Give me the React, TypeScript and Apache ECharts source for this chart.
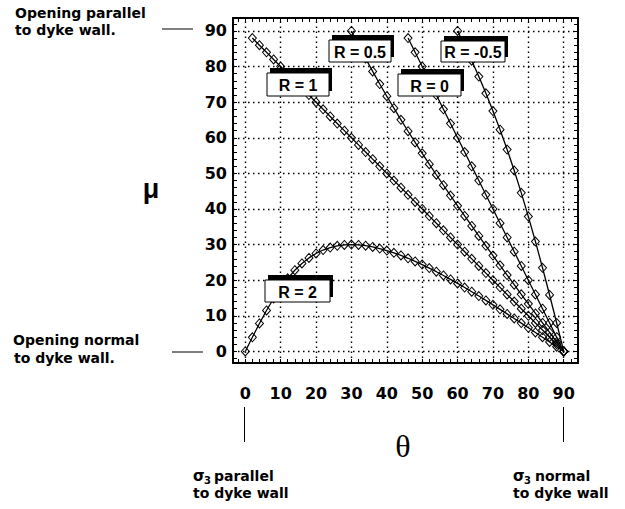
import React, { useEffect, useRef } from "react";
import * as echarts from "echarts";

// θ (deg) and μ (deg) read for each stress ratio R
const THETA_R2 = [0, 2, 4, 6, 8, 10, 12, 14, 16, 18, 20, 22, 24, 26, 28, 30, 32, 34, 36, 38, 40, 42, 44, 46, 48, 50, 52, 54, 56, 58, 60, 62, 64, 66, 68, 70, 72, 74, 76, 78, 80, 82, 84, 86, 88, 90];
const MU_R2 = [0, 3.98, 7.85, 11.5, 14.87, 17.87, 20.52, 22.8, 24.7, 26.27, 27.51, 28.48, 29.18, 29.65, 29.91, 30.0, 29.92, 29.7, 29.35, 28.89, 28.33, 27.69, 26.96, 26.16, 25.29, 24.38, 23.4, 22.39, 21.33, 20.23, 19.11, 17.95, 16.77, 15.56, 14.33, 13.08, 11.82, 10.54, 9.25, 7.95, 6.64, 5.32, 3.99, 2.66, 1.33, 0];

const THETA_R1 = [2, 4, 6, 8, 10, 12, 14, 16, 18, 20, 22, 24, 26, 28, 30, 32, 34, 36, 38, 40, 42, 44, 46, 48, 50, 52, 54, 56, 58, 60, 62, 64, 66, 68, 70, 72, 74, 76, 78, 80, 82, 84, 86, 88, 90];
const MU_R1 = [88, 86, 84, 82, 80, 78, 76, 74, 72, 70, 68, 66, 64, 62, 60, 58, 56, 54, 52, 50, 48, 46, 44, 42, 40, 38, 36, 34, 32, 30, 28, 26, 24, 22, 20, 18, 16, 14, 12, 10, 8, 6, 4, 2, 0];

const THETA_R05 = [30, 32, 34, 36, 38, 40, 42, 44, 46, 48, 50, 52, 54, 56, 58, 60, 62, 64, 66, 68, 70, 72, 74, 76, 78, 80, 82, 84, 86, 88, 90];
const MU_R05 = [90, 86.08, 82.3, 78.65, 75.1, 71.67, 68.31, 65.05, 61.84, 58.71, 55.63, 52.6, 49.62, 46.67, 43.77, 40.89, 38.05, 35.23, 32.44, 29.67, 26.92, 24.18, 21.46, 18.75, 16.05, 13.36, 10.68, 8.01, 5.34, 2.67, 0];

const THETA_R0 = [46, 48, 50, 52, 54, 56, 58, 60, 62, 64, 66, 68, 70, 72, 74, 76, 78, 80, 82, 84, 86, 88, 90];
const MU_R0 = [88, 84, 80, 76, 72, 68, 64, 60, 56, 52, 48, 44, 40, 36, 32, 28, 24, 20, 16, 12, 8, 4, 0];

const THETA_RM05 = [60, 62, 64, 66, 68, 70, 72, 74, 76, 78, 80, 82, 84, 86, 88, 90];
const MU_RM05 = [90, 85.92, 81.65, 77.18, 72.48, 67.5, 62.27, 56.7, 50.8, 44.53, 37.87, 30.86, 23.5, 15.85, 7.99, 0];

const MAJOR_TICKS = [0, 10, 20, 30, 40, 50, 60, 70, 80, 90];
const MINOR_TICKS = [-2, 0, 2, 4, 6, 8, 10, 12, 14, 16, 18, 20, 22, 24, 26, 28, 30, 32, 34, 36, 38, 40, 42, 44, 46, 48, 50, 52, 54, 56, 58, 60, 62, 64, 66, 68, 70, 72, 74, 76, 78, 80, 82, 84, 86, 88, 90, 92];

const LABEL_FONT = "DejaVu Sans";

function lineSeries(name: string, xs: number[], ys: number[]) {
  return {
    type: "line",
    name,
    data: xs.map((x, i) => [x, ys[i]]),
    symbol: "diamond",
    symbolSize: [8, 9],
    showSymbol: true,
    showAllSymbol: true,
    lineStyle: { color: "#000", width: 1.3 },
    itemStyle: { color: "rgba(255,255,255,0)", borderColor: "#000", borderWidth: 1 },
    emphasis: { disabled: true },
    z: 3,
  };
}

function boxLabel(x: number, y: number, w: number, h: number, text: string) {
  return {
    type: "group",
    z: 100,
    children: [
      { type: "rect", z: 100, shape: { x: x + 3, y: y - 5, width: w, height: h }, style: { fill: "#000" } },
      { type: "rect", z: 101, shape: { x, y, width: w, height: h }, style: { fill: "#fff", stroke: "#000", lineWidth: 1 } },
      {
        type: "text",
        z: 102,
        style: {
          text,
          x: x + w / 2,
          y: y + h / 2 + 1,
          align: "center",
          verticalAlign: "middle",
          font: 'bold 16px "Liberation Sans"',
          fill: "#000",
        },
      },
    ],
  };
}

function txt(text: string, x: number, y: number, size: number, extra: any = {}) {
  return {
    type: "text",
    z: 50,
    style: {
      text,
      x,
      y,
      align: "left",
      verticalAlign: "middle",
      font: `bold ${size}px "${LABEL_FONT}"`,
      fill: "#000",
      ...extra,
    },
  };
}

function seg(x1: number, y1: number, x2: number, y2: number) {
  return { type: "line", z: 50, shape: { x1, y1, x2, y2 }, style: { stroke: "#000", lineWidth: 1 } };
}

export default function App() {
  const ref = useRef<HTMLDivElement>(null);

  useEffect(() => {
    if (!ref.current) return;
    const chart = echarts.init(ref.current, null, { renderer: "svg" });

    const commonAxis = {
      type: "value",
      axisLine: { show: true, onZero: false, lineStyle: { color: "#000", width: 2 } },
      axisTick: { show: true, inside: true, length: 4, customValues: MINOR_TICKS, lineStyle: { color: "#000", width: 1 } },
      splitLine: { show: false },
    };

    const labelStyle = {
      show: true,
      customValues: MAJOR_TICKS,
      fontSize: 16,
      fontWeight: "bold",
      fontFamily: LABEL_FONT,
      color: "#000",
    };

    const option: any = {
      animation: false,
      grid: { left: 233, right: 47, top: 18, bottom: 146, containLabel: false },
      xAxis: [
        { ...commonAxis, position: "bottom", min: -3.47, max: 94.03, axisLabel: { ...labelStyle, margin: 22 } },
        { ...commonAxis, position: "top", min: -3.47, max: 94.03, axisLabel: { show: false } },
      ],
      yAxis: [
        { ...commonAxis, position: "left", min: -3.25, max: 93.64, axisLabel: { ...labelStyle, margin: 6 } },
        { ...commonAxis, position: "right", min: -3.25, max: 93.64, axisLabel: { show: false } },
      ],
      series: [
        {
          type: "line",
          data: [],
          silent: true,
          z: 1,
          markLine: {
            silent: true,
            symbol: ["none", "none"],
            label: { show: false },
            lineStyle: { color: "#000", type: [1.5, 3.5], width: 1.4 },
            data: [
              ...MAJOR_TICKS.map((v) => ({ xAxis: v })),
              ...MAJOR_TICKS.map((v) => ({ yAxis: v })),
            ],
          },
        },
        lineSeries("R = 2", THETA_R2, MU_R2),
        lineSeries("R = 1", THETA_R1, MU_R1),
        lineSeries("R = 0.5", THETA_R05, MU_R05),
        lineSeries("R = 0", THETA_R0, MU_R0),
        lineSeries("R = -0.5", THETA_RM05, MU_RM05),
      ],
      graphic: [
        boxLabel(329, 40, 62, 22, "R = 0.5"),
        boxLabel(267, 73, 62, 23, "R = 1"),
        boxLabel(398, 74, 63, 22, "R = 0"),
        boxLabel(441, 41, 64, 21, "R = -0.5"),
        boxLabel(265, 280, 65, 22, "R = 2"),

        txt("Opening parallel", 15, 13, 14),
        txt("to dyke wall.", 15, 30, 14),
        seg(162, 29, 193, 29),

        txt("Opening normal", 13, 339.5, 14),
        txt("to dyke wall.", 14, 357.5, 14),
        seg(172, 352, 203, 352),

        seg(244.5, 407, 244.5, 442),
        seg(563.5, 407, 563.5, 442),

        txt("σ", 193, 476, 15),
        txt("3", 204, 480, 10),
        txt("parallel", 214, 476, 14),
        txt("to dyke wall", 193, 493, 14),

        txt("σ", 513, 476, 15),
        txt("3", 524, 480, 10),
        txt("normal", 535, 476, 14),
        txt("to dyke wall", 513, 493, 14),

        {
          type: "text",
          z: 50,
          style: {
            text: "θ",
            x: 403,
            y: 446,
            align: "center",
            verticalAlign: "middle",
            font: '32px "Liberation Serif"',
            fill: "#000",
          },
        },
        {
          type: "text",
          z: 50,
          style: {
            text: "μ",
            x: 151,
            y: 189,
            align: "center",
            verticalAlign: "middle",
            font: 'bold 27px "Liberation Sans"',
            fill: "#000",
          },
        },
      ],
    };

    chart.setOption(option);
    return () => chart.dispose();
  }, []);

  return (
    <div
      ref={ref}
      style={{ position: "fixed", left: 0, top: 0, width: 625, height: 509, background: "#fff" }}
    />
  );
}
